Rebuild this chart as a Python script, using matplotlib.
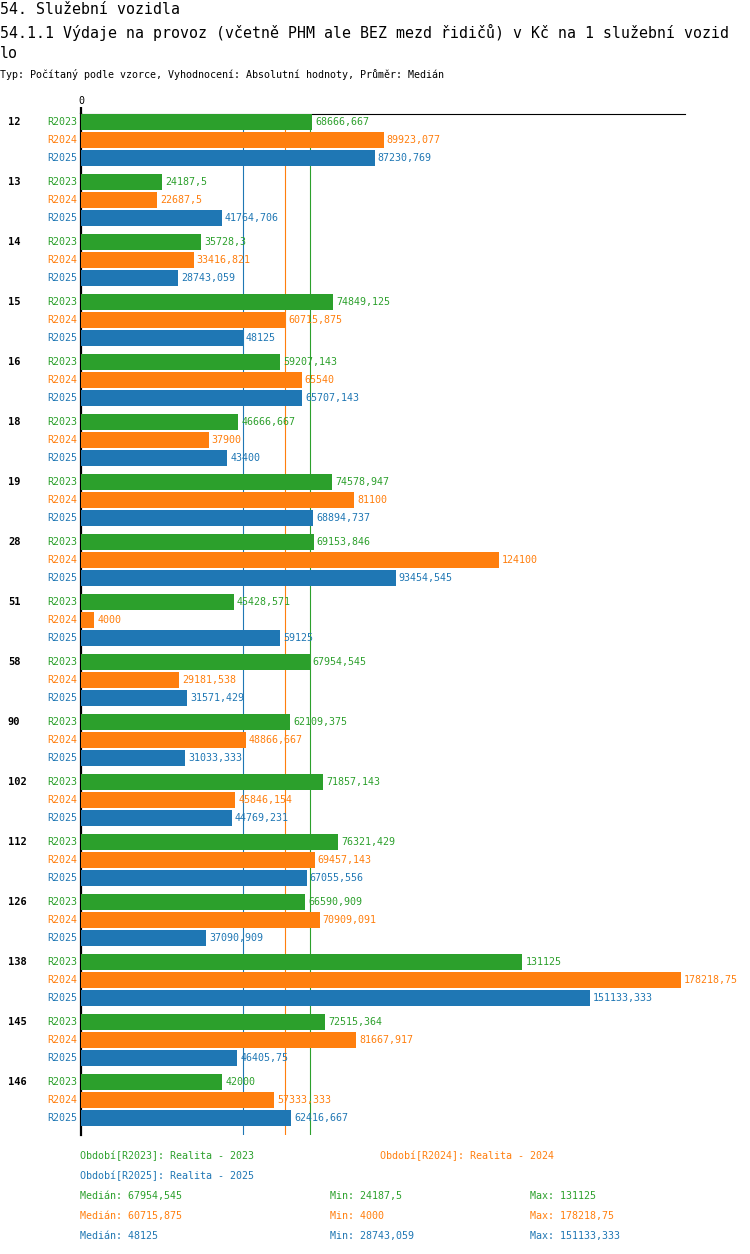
import numpy as np
import matplotlib
matplotlib.use("Agg")
import matplotlib.pyplot as plt

# ---- data ----
groups = ["12", "13", "14", "15", "16", "18", "19", "28", "51", "58", "90",
          "102", "112", "126", "138", "145", "146"]
series_names = ["R2023", "R2024", "R2025"]
series_desc = ["Realita - 2023", "Realita - 2024", "Realita - 2025"]
r2023 = [68666.667, 24187.5, 35728.3, 74849.125, 59207.143, 46666.667, 74578.947,
         69153.846, 45428.571, 67954.545, 62109.375, 71857.143, 76321.429,
         66590.909, 131125, 72515.364, 42000]
r2024 = [89923.077, 22687.5, 33416.821, 60715.875, 65540, 37900, 81100,
         124100, 4000, 29181.538, 48866.667, 45846.154, 69457.143,
         70909.091, 178218.75, 81667.917, 57333.333]
r2025 = [87230.769, 41764.706, 28743.059, 48125, 65707.143, 43400, 68894.737,
         93454.545, 59125, 31571.429, 31033.333, 44769.231, 67055.556,
         37090.909, 151133.333, 46405.75, 62416.667]
colors = ["#2ca02c", "#ff7f0e", "#1f77b4"]

title1 = "54. Služební vozidla"
title2 = "54.1.1 Výdaje na provoz (včetně PHM ale BEZ mezd řidičů) v Kč na 1 služební vozid"
title3 = "lo"
subtitle = "Typ: Počítaný podle vzorce, Vyhodnocení: Absolutní hodnoty, Průměr: Medián"

series = [r2023, r2024, r2025]


def fmt(v):
    s = f"{v:.3f}".rstrip("0").rstrip(".")
    return s.replace(".", ",")


# ---- figure ----
W, H = 750, 1254
fig = plt.figure(figsize=(W / 100, H / 100), dpi=100)
FONT = "DejaVu Sans Mono"
FS = 7.2


def fx(x):
    return x / W


def fy(y):
    return 1 - y / H


# axes in pixel layout
ax_left, ax_right, ax_top, ax_bottom = 81, 685, 114, 1135
ax = fig.add_axes([fx(ax_left), fy(ax_bottom), (ax_right - ax_left) / W,
                   (ax_bottom - ax_top) / H])
maxv = max(max(s) for s in series)
ax.set_xlim(0, maxv * (ax_right - ax_left) / 600.0)
ax.set_ylim(ax_bottom, ax_top)  # y in pixel units, top to bottom

bar_h = 16
first = 122
gstep = 60
sstep = 18

for j, (vals, col) in enumerate(zip(series, colors)):
    ys = [first + gstep * i + sstep * j for i in range(len(groups))]
    ax.barh(ys, vals, height=bar_h, color=col, zorder=3)
    for y, v in zip(ys, vals):
        ax.annotate(fmt(v), xy=(v, y), xytext=(3, 0), textcoords="offset pixels",
                    ha="left", va="center", color=col, fontsize=FS, family=FONT,
                    annotation_clip=False)
        ax.annotate(series_names[j], xy=(0, y), xytext=(-4, 0),
                    textcoords="offset pixels", ha="right", va="center",
                    color=col, fontsize=FS, family=FONT, annotation_clip=False)

for i, g in enumerate(groups):
    y = first + gstep * i
    ax.annotate(g, xy=(0, y), xytext=(-73, 0), textcoords="offset pixels",
                ha="left", va="center", color="black", fontsize=FS + 0.3,
                family=FONT, fontweight="bold", annotation_clip=False)

# median lines
medians = [float(np.median(s)) for s in series]
for m, col in zip(medians, colors):
    ax.axvline(m, color=col, lw=0.8, zorder=1)

# spines / ticks
for s in ["right", "bottom"]:
    ax.spines[s].set_visible(False)
ax.spines["left"].set_linewidth(1.6)
ax.spines["top"].set_linewidth(0.8)
ax.set_yticks([])
ax.xaxis.tick_top()
ax.set_xticks([0])
ax.set_xticklabels(["0"], family=FONT, fontsize=FS)
ax.tick_params(axis="x", direction="out", length=5, width=1.6, pad=1)
ax.set_facecolor("none")

# titles
fig.text(fx(0), fy(10), title1, ha="left", va="center", fontsize=10.7, family=FONT)
fig.text(fx(0), fy(32), title2, ha="left", va="center", fontsize=10.7, family=FONT)
fig.text(fx(0), fy(53), title3, ha="left", va="center", fontsize=10.7, family=FONT)
fig.text(fx(0), fy(74), subtitle, ha="left", va="center", fontsize=FS, family=FONT)

# legend
leg_pos = [(80, 1156), (380, 1156), (80, 1176)]
for (x, y), name, desc, col in zip(leg_pos, series_names, series_desc, colors):
    fig.text(fx(x), fy(y), f"Období[{name}]: {desc}", ha="left", va="center",
             fontsize=FS, family=FONT, color=col)

# stats
for j, (vals, col) in enumerate(zip(series, colors)):
    y = 1196 + 20 * j
    fig.text(fx(80), fy(y), f"Medián: {fmt(np.median(vals))}", ha="left",
             va="center", fontsize=FS, family=FONT, color=col)
    fig.text(fx(330), fy(y), f"Min: {fmt(min(vals))}", ha="left",
             va="center", fontsize=FS, family=FONT, color=col)
    fig.text(fx(530), fy(y), f"Max: {fmt(max(vals))}", ha="left",
             va="center", fontsize=FS, family=FONT, color=col)

fig.savefig("out.png", dpi=100)
